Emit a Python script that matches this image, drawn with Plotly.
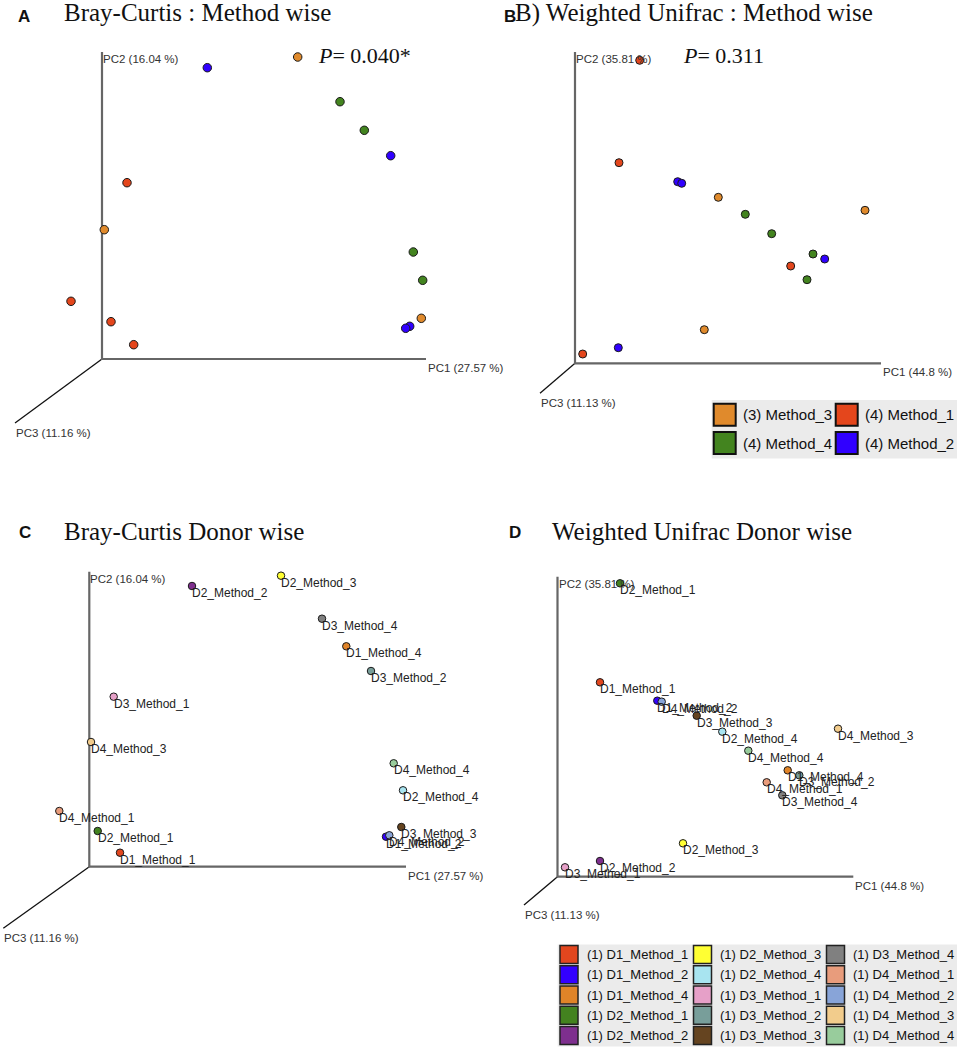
import plotly.graph_objects as go

W, H = 959, 1049

# ---------------- data ----------------
methods = ["Method_3", "Method_1", "Method_4", "Method_2"]
method_n = [3, 4, 4, 4]
method_colors = ["#E08A2C", "#E4461C", "#43841F", "#3000FF"]

# Bray-Curtis, method wise (projected PC1 / PC2 screen coordinates)
bc_m3_x = [195.7, 2.3, 319.3]
bc_m3_y = [302.0, 129.3, 40.7]
bc_m1_x = [25.0, -31.0, 9.0, 31.7]
bc_m1_y = [176.3, 57.7, 37.3, 14.3]
bc_m4_x = [238.0, 262.3, 311.3, 320.7]
bc_m4_y = [257.3, 228.7, 107.0, 78.7]
bc_m2_x = [105.3, 288.7, 307.7, 303.7]
bc_m2_y = [291.3, 203.3, 32.7, 30.7]

# Weighted Unifrac, method wise
wu_m3_x = [143.3, 290.0, 129.3]
wu_m3_y = [166.0, 153.0, 33.6]
wu_m1_x = [64.7, 44.0, 215.7, 7.7]
wu_m1_y = [303.0, 200.6, 97.3, 9.3]
wu_m4_x = [170.3, 196.7, 238.0, 232.0]
wu_m4_y = [149.0, 129.6, 109.3, 83.6]
wu_m2_x = [102.7, 106.7, 249.7, 43.3]
wu_m2_y = [181.6, 180.0, 104.3, 15.6]

samples = ["D1_Method_1", "D1_Method_2", "D1_Method_4", "D2_Method_1", "D2_Method_2",
           "D2_Method_3", "D2_Method_4", "D3_Method_1", "D3_Method_2", "D3_Method_3",
           "D3_Method_4", "D4_Method_1", "D4_Method_2", "D4_Method_3", "D4_Method_4"]
sample_colors = ["#E2461E", "#3300FF", "#E08428", "#43821F", "#7E2F8E",
                 "#FFFF33", "#A8E4F0", "#E6A0C8", "#789E9A", "#654420",
                 "#808080", "#E89C7C", "#88A4D8", "#F2CC8C", "#98CC9C"]

# Bray-Curtis, donor wise
bc_donor_x = [30.7, 296.7, 257.0, 8.4, 102.7, 191.7, 313.7, 24.4, 281.7, 312.0, 232.7, -30.0, 300.0, 1.7, 304.4]
bc_donor_y = [14.0, 30.0, 220.4, 35.7, 280.7, 291.0, 76.4, 170.0, 195.7, 39.7, 248.0, 55.7, 31.4, 124.7, 103.4]
# Weighted Unifrac, donor wise
wu_donor_x = [42.5, 99.8, 230.2, 62.5, 42.5, 125.5, 164.8, 7.5, 241.8, 139.2, 224.8, 209.2, 104.2, 280.5, 190.8]
wu_donor_y = [194.4, 176.0, 106.4, 293.4, 15.7, 33.4, 145.0, 9.4, 101.4, 161.0, 81.4, 94.4, 175.0, 148.0, 126.0]

pc_labels_bc = ["PC1 (27.57 %)", "PC2 (16.04 %)", "PC3 (11.16 %)"]
pc_labels_wu = ["PC1 (44.8 %)", "PC2 (35.81 %)", "PC3 (11.13 %)"]
p_values = ["0.040*", "0.311"]
titles = ["Bray-Curtis : Method wise", "B) Weighted Unifrac : Method wise",
          "Bray-Curtis Donor wise", "Weighted Unifrac Donor wise"]
panel_letters = ["A", "B", "C", "D"]

# ---------------- layout geometry (pixels) ----------------
# (origin x, origin y, PC1 length, PC2 length, PC3 end dx, PC3 end dy, marker size)
panels = [
    (102.0, 359.0, 324.0, 307.0, -87.0, -64.0, 8.5),
    (575.0, 363.3, 306.0, 311.3, -35.0, -30.0, 8),
    (89.3, 866.7, 316.7, 295.0, -86.0, -61.6, 7.5),
    (557.5, 876.7, 295.8, 300.0, -33.5, -28.3, 7.5),
]

SANS = "Liberation Sans, Arial, sans-serif"
SERIF = "Liberation Serif, Times New Roman, serif"

fig = go.Figure()
annotations = []
shapes = []


def px(x):
    return x / W


def py(y):
    return 1 - y / H


def axname(k):
    return ("x", "y") if k == 1 else (f"x{k}", f"y{k}")


for k, (ox, oy, L1, L2, e3x, e3y, ms) in enumerate(panels, start=1):
    xa = "xaxis" if k == 1 else f"xaxis{k}"
    ya = "yaxis" if k == 1 else f"yaxis{k}"
    xr, yr = axname(k)
    fig.layout[xa] = dict(domain=[0, 1], range=[-ox, W - ox], visible=False,
                          fixedrange=True, anchor=yr)
    fig.layout[ya] = dict(domain=[0, 1], range=[oy - H, oy], visible=False,
                          fixedrange=True, anchor=xr)
    # PC3 axis (thin black), PC1 & PC2 axes (thicker gray)
    fig.add_trace(go.Scatter(x=[0, e3x], y=[0, e3y], mode="lines", xaxis=xr, yaxis=yr,
                             line=dict(color="#111111", width=1.3), hoverinfo="skip",
                             showlegend=False))
    fig.add_trace(go.Scatter(x=[0, 0, L1], y=[L2, 0, 0], mode="lines", xaxis=xr, yaxis=yr,
                             line=dict(color="#666666", width=2.2), hoverinfo="skip",
                             showlegend=False))
    labels = pc_labels_bc if k in (1, 3) else pc_labels_wu
    lab_font = dict(family=SANS, size=11.5, color="#333333")
    annotations.append(dict(x=L1, y=0, xref=xr, yref=yr, text=labels[0], showarrow=False,
                            xanchor="left", yanchor="middle", yshift=-9, font=lab_font))
    annotations.append(dict(x=0, y=L2, xref=xr, yref=yr, text=labels[1], showarrow=False,
                            xanchor="left", yanchor="middle", yshift=-7, xshift=-1, font=lab_font))
    annotations.append(dict(x=e3x, y=e3y, xref=xr, yref=yr, text=labels[2], showarrow=False,
                            xanchor="left", yanchor="middle", yshift=-10, xshift=-1, font=lab_font))

# ---- panels A & B: method groups ----
bc_groups = [(bc_m3_x, bc_m3_y), (bc_m1_x, bc_m1_y), (bc_m4_x, bc_m4_y), (bc_m2_x, bc_m2_y)]
wu_groups = [(wu_m3_x, wu_m3_y), (wu_m1_x, wu_m1_y), (wu_m4_x, wu_m4_y), (wu_m2_x, wu_m2_y)]
for k, groups in ((1, bc_groups), (2, wu_groups)):
    xr, yr = axname(k)
    ms = panels[k - 1][6]
    for (gx, gy), name, col in zip(groups, methods, method_colors):
        fig.add_trace(go.Scatter(x=gx, y=gy, mode="markers", xaxis=xr, yaxis=yr, name=name,
                                 marker=dict(size=ms, color=col,
                                             line=dict(color="#1a1a1a", width=1)),
                                 cliponaxis=False, showlegend=False))

# ---- panels C & D: donor samples with labels ----
for k, (dx, dy) in ((3, (bc_donor_x, bc_donor_y)), (4, (wu_donor_x, wu_donor_y))):
    xr, yr = axname(k)
    ms = panels[k - 1][6]
    for sx, sy, name, col in zip(dx, dy, samples, sample_colors):
        fig.add_trace(go.Scatter(x=[sx], y=[sy], mode="markers", xaxis=xr, yaxis=yr, name=name,
                                 marker=dict(size=ms, color=col,
                                             line=dict(color="#1a1a1a", width=1)),
                                 cliponaxis=False, showlegend=False))
        annotations.append(dict(x=sx, y=sy, xref=xr, yref=yr, text=name, showarrow=False,
                                xanchor="left", yanchor="top", xshift=-2, yshift=2,
                                font=dict(family=SANS, size=12, color="#222222")))

# ---- titles, panel letters, p-values ----
title_pos = [(62, 13), (513, 13), (62, 531), (550, 531)]
letter_pos = [(16, 16), (502, 17), (17, 532), (507, 532)]
for t, (tx, ty), L, (lx, lyy) in zip(titles, title_pos, panel_letters, letter_pos):
    annotations.append(dict(x=px(tx), y=py(ty), xref="paper", yref="paper", text=t,
                            showarrow=False, xanchor="left", yanchor="middle",
                            font=dict(family=SERIF, size=25, color="#111111")))
    annotations.append(dict(x=px(lx), y=py(lyy), xref="paper", yref="paper", text=f"<b>{L}</b>",
                            showarrow=False, xanchor="left", yanchor="middle",
                            font=dict(family=SANS, size=17, color="#111111")))
for pv, (tx, ty) in zip(p_values, [(316, 56), (681, 56)]):
    annotations.append(dict(x=px(tx), y=py(ty), xref="paper", yref="paper",
                            text=f"<i>P</i>= {pv}", showarrow=False, xanchor="left",
                            yanchor="middle", font=dict(family=SERIF, size=22, color="#111111")))

# ---- legend axis (pixel coordinates) ----
fig.layout["xaxis5"] = dict(domain=[0, 1], range=[0, W], visible=False, fixedrange=True, anchor="y5")
fig.layout["yaxis5"] = dict(domain=[0, 1], range=[H, 0], visible=False, fixedrange=True, anchor="x5")

# legend B (method)
shapes.append(dict(type="rect", xref="paper", yref="paper", x0=px(711.7), x1=px(957),
                   y0=py(400), y1=py(458.5), fillcolor="#EBEBEB", line=dict(width=0), layer="below"))
mb_cols = [724.7, 846.7]
mb_rows = [414.7, 443.0]
lx, ly = [], []
for i, (name, n) in enumerate(zip(methods, method_n)):
    cx, cy = mb_cols[i % 2], mb_rows[i // 2]
    lx.append(cx)
    ly.append(cy)
    annotations.append(dict(x=cx + 16, y=cy, xref="x5", yref="y5", text=f"({n}) {name}",
                            showarrow=False, xanchor="left", yanchor="middle",
                            font=dict(family=SANS, size=15, color="#111111")))
fig.add_trace(go.Scatter(x=lx, y=ly, mode="markers", xaxis="x5", yaxis="y5", showlegend=False,
                         hoverinfo="skip",
                         marker=dict(symbol="square", size=22, color=method_colors,
                                     line=dict(color="#111111", width=2))))

# legend D (donor samples)
shapes.append(dict(type="rect", xref="paper", yref="paper", x0=px(557.7), x1=px(957),
                   y0=py(944.5), y1=py(1046.5), fillcolor="#EBEBEB", line=dict(width=0), layer="below"))
md_cols = [569.0, 702.5, 835.5]
md_rows = [954.5, 974.8, 995.0, 1015.2, 1035.5]
lx, ly = [], []
for i, name in enumerate(samples):
    cx, cy = md_cols[i // 5], md_rows[i % 5]
    lx.append(cx)
    ly.append(cy)
    annotations.append(dict(x=cx + 15.5, y=cy, xref="x5", yref="y5", text=f"(1) {name}",
                            showarrow=False, xanchor="left", yanchor="middle",
                            font=dict(family=SANS, size=13, color="#111111")))
fig.add_trace(go.Scatter(x=lx, y=ly, mode="markers", xaxis="x5", yaxis="y5", showlegend=False,
                         hoverinfo="skip",
                         marker=dict(symbol="square", size=18, color=sample_colors,
                                     line=dict(color="#222222", width=1.5))))

fig.update_layout(width=W, height=H, margin=dict(l=0, r=0, t=0, b=0, pad=0),
                  paper_bgcolor="white", plot_bgcolor="rgba(0,0,0,0)", showlegend=False,
                  annotations=annotations, shapes=shapes, hovermode="closest")

fig.write_html("out.html", config={"displayModeBar": False},
               post_script="document.body.style.margin='0';document.body.style.overflow='hidden';")
